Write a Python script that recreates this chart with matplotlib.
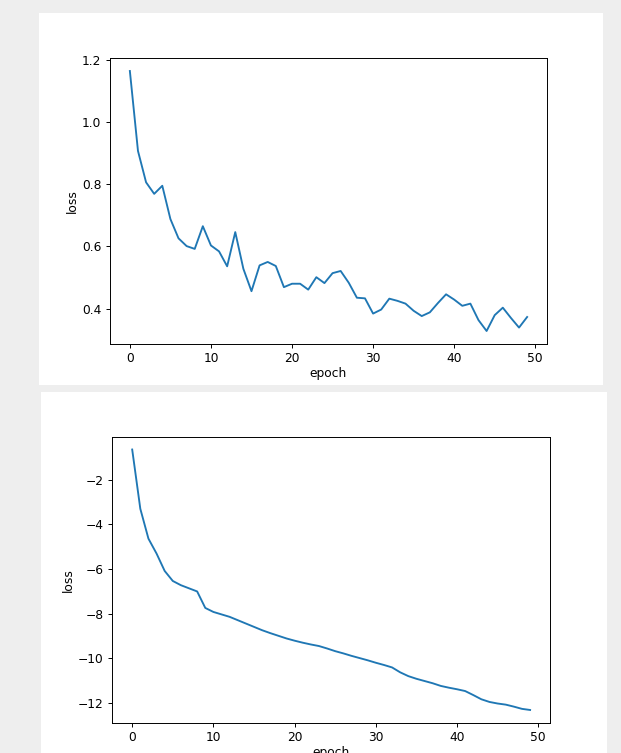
import matplotlib
matplotlib.use("Agg")
import matplotlib.pyplot as plt
from matplotlib.patches import Rectangle

# loss curves
epochs = list(range(50))
loss_top = [1.164, 0.907, 0.806, 0.769, 0.795, 0.688, 0.626, 0.601, 0.592, 0.665,
            0.603, 0.584, 0.536, 0.646, 0.528, 0.456, 0.539, 0.550, 0.537, 0.469,
            0.480, 0.480, 0.461, 0.501, 0.482, 0.514, 0.521, 0.483, 0.435, 0.433,
            0.384, 0.397, 0.432, 0.425, 0.416, 0.393, 0.376, 0.388, 0.418, 0.446,
            0.429, 0.409, 0.416, 0.363, 0.328, 0.379, 0.403, 0.370, 0.339, 0.373]
loss_bottom = [-0.64, -3.30, -4.64, -5.31, -6.09, -6.54, -6.73, -6.87, -7.01, -7.75,
               -7.93, -8.04, -8.15, -8.30, -8.45, -8.60, -8.75, -8.88, -9.00, -9.12,
               -9.22, -9.31, -9.39, -9.46, -9.57, -9.69, -9.79, -9.90, -10.00, -10.10,
               -10.21, -10.31, -10.42, -10.64, -10.81, -10.93, -11.03, -11.13, -11.25, -11.33,
               -11.40, -11.48, -11.66, -11.85, -11.97, -12.04, -12.09, -12.18, -12.28, -12.33]

W, H = 621, 753
fs = 8.8


def box(x0, y0, x1, y1):
    # pixel box (top-left origin) -> figure fraction rect
    return [x0 / W, (H - y1) / H, (x1 - x0) / W, (y1 - y0) / H]


fig = plt.figure(figsize=(W / 100, H / 100), dpi=100, facecolor="#eeeeee")

# white panels of the two screenshots, kept behind the axes
for x0, y0, x1, y1 in [(39, 13, 603, 385), (41, 392, 607, 763)]:
    r = box(x0, y0, x1, y1)
    fig.patches.append(Rectangle((r[0], r[1]), r[2], r[3], transform=fig.transFigure,
                                 facecolor="white", edgecolor="none", zorder=-1))

ax1 = fig.add_axes(box(110, 58, 547, 344))
ax1.plot(epochs, loss_top, color="#1f77b4", lw=1.35)

ax2 = fig.add_axes(box(112.3, 436.5, 550, 723))
ax2.plot(epochs, loss_bottom, color="#1f77b4", lw=1.35)

for ax in (ax1, ax2):
    ax.set_xlabel("epoch", fontsize=fs, labelpad=0.8)
    ax.set_ylabel("loss", fontsize=fs, labelpad=2.2)
    ax.tick_params(labelsize=fs, length=3.1, width=0.7, pad=3)
    for s in ax.spines.values():
        s.set_linewidth(0.7)

ax1.set_yticks([0.4, 0.6, 0.8, 1.0, 1.2])

fig.savefig("out.png", dpi=100, facecolor=fig.get_facecolor())
